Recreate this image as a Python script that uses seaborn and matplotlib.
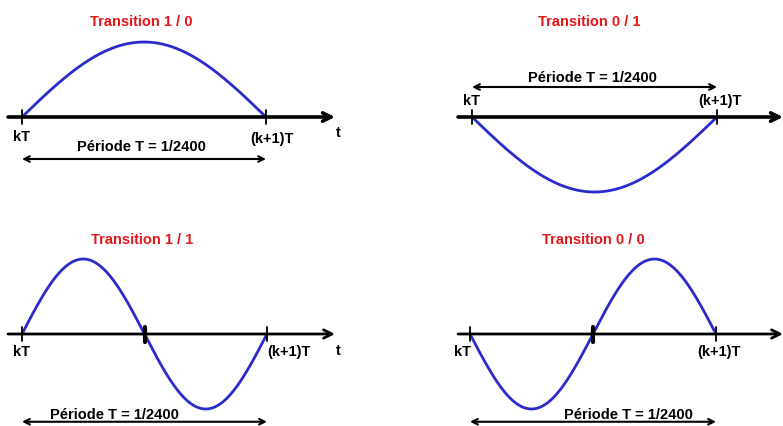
import numpy as np
import pandas as pd
import seaborn as sns
import matplotlib.pyplot as plt

# one panel per bit transition
titles = ["Transition 1 / 0", "Transition 0 / 1", "Transition 1 / 1", "Transition 0 / 0"]
half_periods = [1, 1, 2, 2]      # half sine waves inside one symbol period
start_sign = [1, -1, 1, -1]      # first lobe up (+1) or down (-1)
period_label = "Période T = 1/2400"
tick_labels = ["kT", "(k+1)T", "t"]

sns.set_style("white")
plt.rcParams["font.family"] = ["Liberation Sans", "DejaVu Sans"]

W, H = 783, 427
fig = plt.figure(figsize=(W / 100, H / 100), dpi=100)

# layout in pixels: panel rect (left, top, width, height), kT px, (k+1)T px, axis-line px
panels = [
    dict(rect=(0, 0, 391.5, 213.5), x0=22, x1=266, y0=118),
    dict(rect=(391.5, 0, 391.5, 213.5), x0=472, x1=717, y0=118),
    dict(rect=(0, 213.5, 391.5, 213.5), x0=22, x1=267, y0=335),
    dict(rect=(391.5, 213.5, 391.5, 213.5), x0=470, x1=716, y0=335),
]
sy = 75.0  # px per unit amplitude

# text placement per panel (in T / amplitude units)
title_pos = [(0.49, 1.28), (0.48, 1.28), (0.49, 1.27), (0.50, 1.27)]
period_pos = [(0.49, -0.39), (0.49, 0.53), (0.376, -1.07), (0.646, -1.07)]
span_y = [-0.56, 0.40, -1.17, -1.17]
kt_pos = [(0.0, -0.25), (0.0, 0.23), (0.0, -0.23), (-0.03, -0.23)]
k1_pos = [(1.025, -0.28), (1.01, 0.23), (1.09, -0.23), (1.01, -0.23)]
t_pos = [(1.295, -0.2), None, (1.29, -0.21), None]

title_kw = dict(fontweight="bold", fontsize=10.5, color="#e3171b", ha="center", va="center")
label_kw = dict(fontweight="bold", fontsize=10.5, color="black", ha="center", va="center")
period_kw = dict(fontweight="bold", fontsize=10.5, color="black", ha="center", va="center")

for i, p in enumerate(panels):
    L, T, w, h = p["rect"]
    sx = p["x1"] - p["x0"]
    ax = fig.add_axes([L / W, 1 - (T + h) / H, w / W, h / H])
    ax.set_xlim((L - p["x0"]) / sx, (L + w - p["x0"]) / sx)
    ax.set_ylim((p["y0"] - (T + h)) / sy, (p["y0"] - T) / sy)
    ax.axis("off")
    ax.patch.set_alpha(0)

    # time axis with arrow
    x_start = ((8 if L == 0 else 458) - p["x0"]) / sx
    x_end = ((335 if L == 0 else 783) - p["x0"]) / sx
    lw_axis = 2.6 if T == 0 else 2.0
    ax.annotate("", xy=(x_end, 0), xytext=(x_start, 0), annotation_clip=False,
                arrowprops=dict(arrowstyle="->", lw=lw_axis, color="black",
                                mutation_scale=15, shrinkA=0, shrinkB=0))

    # signal
    t = np.linspace(0, 1, 300)
    df = pd.DataFrame({"t": t,
                       "s": start_sign[i] * np.sin(np.pi * half_periods[i] * t)})
    sns.lineplot(data=df, x="t", y="s", ax=ax, color="#2b2bcc", lw=2, sort=False)

    # ticks at kT, (k+1)T and mid-period
    for tk in [0, 1]:
        ax.plot([tk, tk], [-0.09, 0.09], color="black", lw=1.3)
    if half_periods[i] == 2:
        ax.plot([0.5, 0.5], [-0.1, 0.1], color="black", lw=3)

    ax.text(*title_pos[i], titles[i], **title_kw)
    ax.text(*period_pos[i], period_label, **period_kw)
    ax.annotate("", xy=(1, span_y[i]), xytext=(0, span_y[i]), annotation_clip=False,
                arrowprops=dict(arrowstyle="<->", lw=1.5, color="black",
                                mutation_scale=10, shrinkA=0, shrinkB=0))
    ax.text(*kt_pos[i], tick_labels[0], **label_kw)
    ax.text(*k1_pos[i], tick_labels[1], **label_kw)
    if t_pos[i] is not None:
        ax.text(*t_pos[i], tick_labels[2], **label_kw)

fig.savefig("out.png", dpi=100)
